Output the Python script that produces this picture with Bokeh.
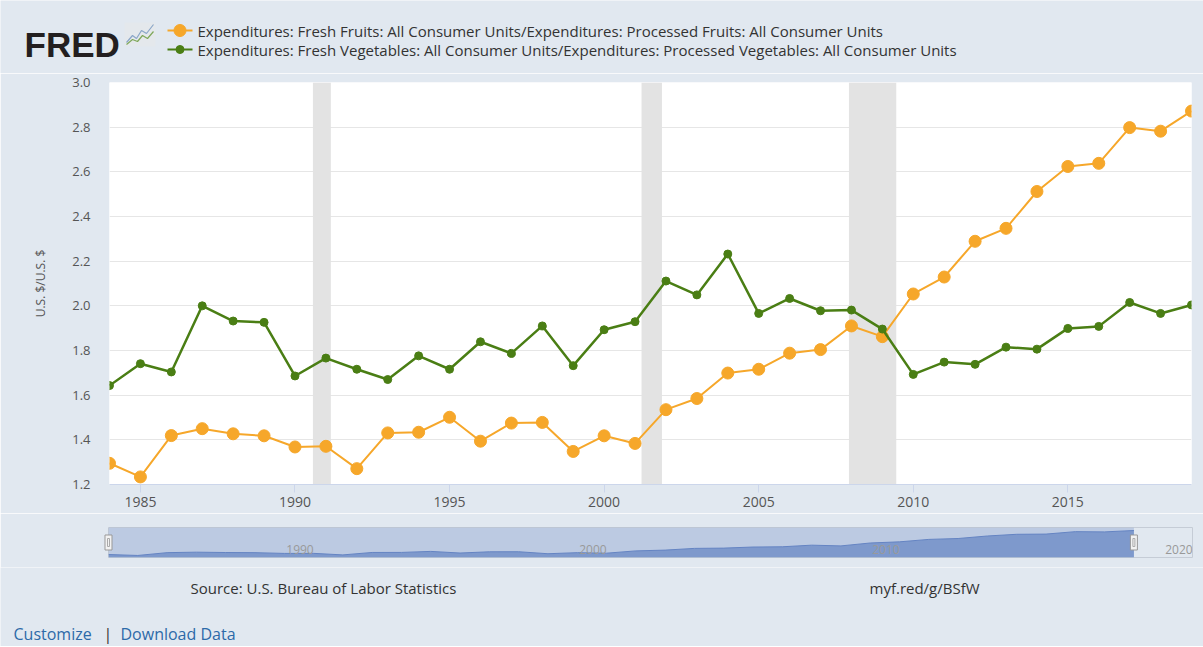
from bokeh.plotting import figure
from bokeh.layouts import column
from bokeh.models import Range1d, FixedTicker, BoxAnnotation, CustomJSTickFormatter, LabelSet, ColumnDataSource
from bokeh.core.properties import value
from bokeh.embed import file_html
from bokeh.resources import INLINE

# ---------------- data ----------------
years = list(range(1984, 2020))
fruits = [1.295, 1.234, 1.419, 1.450, 1.427, 1.418, 1.368, 1.371, 1.271, 1.431,
          1.434, 1.501, 1.394, 1.475, 1.478, 1.348, 1.418, 1.384, 1.535, 1.585,
          1.699, 1.716, 1.788, 1.804, 1.910, 1.862, 2.053, 2.129, 2.289, 2.347,
          2.512, 2.624, 2.638, 2.798, 2.782, 2.872]
vegetables = [1.643, 1.741, 1.704, 2.000, 1.932, 1.926, 1.686, 1.766, 1.716, 1.670,
              1.776, 1.716, 1.839, 1.787, 1.910, 1.732, 1.893, 1.929, 2.111, 2.049,
              2.232, 1.966, 2.033, 1.978, 1.981, 1.896, 1.693, 1.748, 1.738, 1.815,
              1.806, 1.899, 1.908, 2.015, 1.966, 2.004]
series_names = [
    "Expenditures: Fresh Fruits: All Consumer Units/Expenditures: Processed Fruits: All Consumer Units",
    "Expenditures: Fresh Vegetables: All Consumer Units/Expenditures: Processed Vegetables: All Consumer Units",
]
rec_start = [1990.58, 2001.21, 2007.92]
rec_end = [1991.16, 2001.87, 2009.45]
x_ticks = [1985, 1990, 1995, 2000, 2005, 2010, 2015]
y_ticks = [1.2, 1.4, 1.6, 1.8, 2.0, 2.2, 2.4, 2.6, 2.8, 3.0]
nav_ticks = [1990, 2000, 2010, 2020]
nav_labels = ["1990", "2000", "2010", "2020"]
y_label = "U.S. $/U.S. $"
source_text = "Source: U.S. Bureau of Labor Statistics"
link_text = "myf.red/g/BSfW"

# ---------------- styles ----------------
BG = "#E1E8F0"
ORANGE = "#F6A72A"
GREEN = "#4A7E14"
FONT = value("Open Sans")
W = 1203

# ---------------- header ----------------
HH = 73
hdr = figure(width=W, height=HH, x_range=Range1d(0, W), y_range=Range1d(HH, 0),
             output_backend="svg", toolbar_location=None,
             x_axis_location=None, y_axis_location=None, min_border=0)
hdr.frame_align = False
hdr.background_fill_color = BG
hdr.border_fill_color = BG
hdr.outline_line_color = None
hdr.grid.visible = False
hdr.text(x=[24], y=[44], text=["FRED"], text_font=value("Liberation Sans"),
         text_font_style="bold", text_font_size=value("35px"), text_color="#231F20",
         text_baseline="alphabetic", text_align="left")
hdr.quad(left=[124], right=[155], top=[22], bottom=[46], fill_color="#E4E8EC",
         line_color=None)
hdr.line(x=[126, 132, 136, 141, 146, 153], y=[42, 35, 38, 30, 33, 24],
         line_color="#8AA6C8", line_width=1.2)
hdr.line(x=[126, 132, 137, 142, 147, 153], y=[44, 39, 41, 35, 38, 31],
         line_color="#7FA85A", line_width=1.2)
hdr.segment(x0=[167, 167], y0=[30, 49], x1=[192, 192], y1=[30, 49],
            line_color=[ORANGE, GREEN], line_width=2)
hdr.scatter(x=[179.5, 179.5], y=[30, 49], size=[12, 8], color=[ORANGE, GREEN])
hdr.text(x=[197, 197], y=[30, 49], text=series_names, text_font=FONT,
         text_font_size=value("15px"), text_color="#333333",
         text_baseline="middle", text_align="left")

# ---------------- main chart ----------------
p = figure(width=W, height=440, x_range=Range1d(1984, 2019), y_range=Range1d(1.2, 3.0),
           output_backend="svg", toolbar_location=None,
           min_border_left=109, min_border_right=12, min_border_top=9, min_border_bottom=29)
p.frame_align = False
p.background_fill_color = "white"
p.border_fill_color = BG
p.outline_line_color = None

p.xaxis.ticker = FixedTicker(ticks=x_ticks)
p.xaxis.formatter = CustomJSTickFormatter(code="return tick.toFixed(0);")
p.xaxis.axis_line_color = "#CCD6EB"
p.xaxis.major_tick_line_color = "#CCD6EB"
p.xaxis.major_tick_out = 8
p.xaxis.major_tick_in = 0
p.xaxis.minor_tick_line_color = None
p.xaxis.major_label_standoff = 4
p.xaxis.major_label_text_font = "Open Sans"
p.xaxis.major_label_text_font_size = "14px"
p.xaxis.major_label_text_color = "#555555"

p.yaxis.ticker = FixedTicker(ticks=y_ticks)
p.yaxis.formatter = CustomJSTickFormatter(code="return tick.toFixed(1);")
p.yaxis.axis_line_color = None
p.yaxis.major_tick_line_color = None
p.yaxis.minor_tick_line_color = None
p.yaxis.major_tick_out = 0
p.yaxis.major_label_standoff = 19
p.yaxis.major_label_text_font = "Open Sans"
p.yaxis.major_label_text_font_size = "13px"
p.yaxis.major_label_text_color = "#555555"
p.yaxis.axis_label = y_label
p.yaxis.axis_label_text_font = "Open Sans"
p.yaxis.axis_label_text_font_size = "12px"
p.yaxis.axis_label_text_font_style = "normal"
p.yaxis.axis_label_text_color = "#555555"
p.yaxis.axis_label_standoff = 20

p.xgrid.grid_line_color = None
p.ygrid.ticker = FixedTicker(ticks=y_ticks)
p.ygrid.grid_line_color = "#E6E6E6"
p.ygrid.grid_line_width = 1

for s, e in zip(rec_start, rec_end):
    p.add_layout(BoxAnnotation(left=s, right=e, fill_color="#E3E3E3", fill_alpha=1,
                               line_color=None, level="underlay"))

p.line(years, fruits, line_color=ORANGE, line_width=2)
p.scatter(years, fruits, size=12, color=ORANGE)
p.line(years, vegetables, line_color=GREEN, line_width=2.5)
p.scatter(years, vegetables, size=8, color=GREEN)

# ---------------- navigator ----------------
nav_lo, nav_hi = 1.10, 3.07
nav = figure(width=W, height=54, x_range=Range1d(1984, 2021), y_range=Range1d(nav_lo, nav_hi),
             output_backend="svg", toolbar_location=None,
             x_axis_location=None, y_axis_location=None,
             min_border_left=108, min_border_right=11, min_border_top=14, min_border_bottom=10)
nav.frame_align = False
nav.background_fill_color = BG
nav.border_fill_color = BG
nav.outline_line_color = "#C5CCD6"
nav.grid.visible = False
nav.varea(x=years, y1=[nav_lo] * len(years), y2=fruits, fill_color="#88A2D0")
nav.line(years, fruits, line_color="#6484C2", line_width=1)
nav.add_layout(BoxAnnotation(left=years[0], right=years[-1], fill_color="#6685C2",
                             fill_alpha=0.3, line_color=None))
nav_src = ColumnDataSource(dict(x=nav_ticks, y=[1.62] * len(nav_ticks), t=nav_labels))
nav.add_layout(LabelSet(x="x", y="y", text="t", source=nav_src, x_offset=2,
                        text_font=FONT, text_font_size=value("12px"), text_color="#999999",
                        text_baseline="middle", text_align="left", level="overlay"))
mid = (nav_lo + nav_hi) / 2
nav.rect(x=[years[0], years[-1]], y=[mid, mid], width=7, height=15,
         width_units="screen", height_units="screen",
         fill_color="#F2F2F2", line_color="#999999", level="overlay")
nav.rect(x=[years[0], years[-1]], y=[mid, mid], width=2, height=8,
         width_units="screen", height_units="screen",
         fill_color=None, line_color="#AAAAAA", level="overlay")

# ---------------- footer ----------------
FH = 79
ftr = figure(width=W, height=FH, x_range=Range1d(0, W), y_range=Range1d(FH, 0),
             output_backend="svg", toolbar_location=None,
             x_axis_location=None, y_axis_location=None, min_border=0)
ftr.frame_align = False
ftr.background_fill_color = BG
ftr.border_fill_color = BG
ftr.outline_line_color = None
ftr.grid.visible = False
ftr.text(x=[190], y=[20], text=[source_text], text_font=FONT,
         text_font_size=value("15px"), text_color="#333333",
         text_baseline="middle", text_align="left")
ftr.text(x=[869], y=[20], text=[link_text], text_font=FONT,
         text_font_size=value("15px"), text_color="#333333",
         text_baseline="middle", text_align="left")
ftr.text(x=[13, 103, 120], y=[66, 66, 66], text=["Customize", "|", "Download Data"],
         text_font=FONT, text_font_size=value("16px"),
         text_color=["#2D6AA8", "#333333", "#2D6AA8"],
         text_baseline="middle", text_align="left")

layout = column(hdr, p, nav, ftr, spacing=0)
open("out.html", "w").write(file_html(layout, INLINE))
